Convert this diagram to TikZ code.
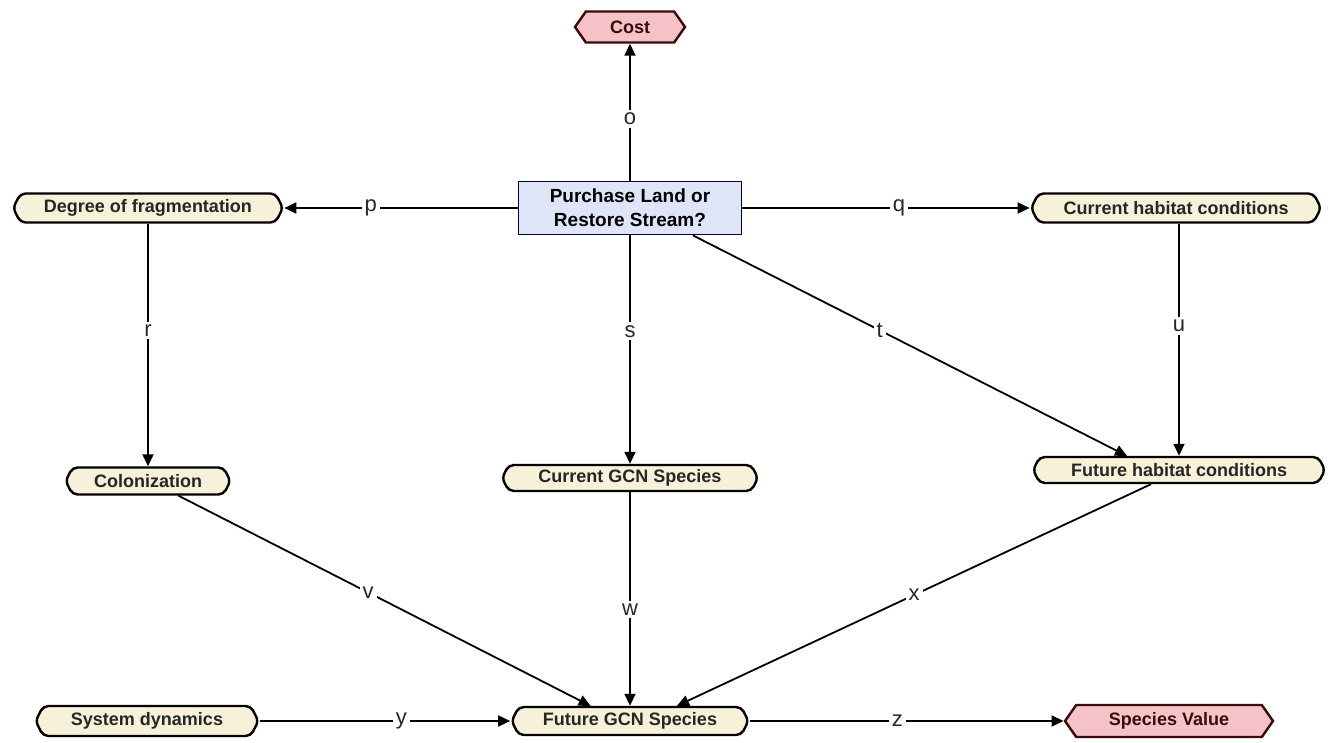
\documentclass[tikz,border=0pt]{standalone}
\usepackage{fontspec}
\setmainfont{Liberation Sans}
\usetikzlibrary{shapes.symbols,arrows.meta,calc}
\definecolor{cream}{HTML}{F7F1DA}
\definecolor{pinkv}{HTML}{F5C3C7}
\definecolor{bluebox}{HTML}{DDE5F7}
\definecolor{darkred}{HTML}{3A0A0A}
\tikzset{
  chance/.style={signal, signal to=west and east, signal pointer angle=125, rounded corners=5pt,
     draw=black, line width=2.4pt, fill=cream, inner sep=0pt,
     font=\bfseries\fontsize{18}{20}\selectfont, text=black!85},
  valuenode/.style={signal, signal to=west and east, signal pointer angle=110, draw=darkred,
     line width=2.4pt, fill=pinkv, inner sep=0pt, font=\bfseries\fontsize{18}{20}\selectfont, text=darkred},
  decision/.style={rectangle, draw=black!80!blue, line width=1.8pt, fill=bluebox, inner sep=0pt,
     align=center, font=\bfseries\fontsize{19}{24}\selectfont},
  arc/.style={line width=1.8pt, -{Triangle[length=12pt,width=11pt]}},
  lbl/.style={fill=white, inner sep=3pt, font=\fontsize{22}{24}\selectfont, text=black!85},
}
\begin{document}
\begin{tikzpicture}[x=1pt,y=-1pt]
\useasboundingbox (0,0) rectangle (1333,743);
% nodes
\node[valuenode, minimum width=110pt, minimum height=31pt] (cost) at (630,27) {Cost};
\node[decision, minimum width=223pt, minimum height=53pt] (pur) at (630,208) {Purchase Land or\\Restore Stream?};
\node[chance, minimum width=270pt, minimum height=29pt] (deg) at (148,208) {Degree of fragmentation};
\node[chance, minimum width=290pt, minimum height=29pt] (curhab) at (1176,208) {Current habitat conditions};
\node[chance, minimum width=165pt, minimum height=27pt] (col) at (148,481) {Colonization};
\node[chance, minimum width=256pt, minimum height=26pt] (curgcn) at (630,478) {Current GCN Species};
\node[chance, minimum width=292pt, minimum height=26pt] (futhab) at (1179,470) {Future habitat conditions};
\node[chance, minimum width=223pt, minimum height=30pt] (sys) at (147,721) {System dynamics};
\node[chance, minimum width=237pt, minimum height=28pt] (futgcn) at (630,721) {Future GCN Species};
\node[valuenode, minimum width=208pt, minimum height=32pt] (spv) at (1169,721) {Species Value};
% connectors
\draw[arc] (pur.north) -- node[lbl, pos=0.45] (lo) {o} (cost.south);
\draw[arc] (pur.west) -- node[lbl, pos=0.63] (lp) {p} (deg.east);
\draw[arc] (pur.east) -- node[lbl, pos=0.545] (lq) {q} (curhab.west);
\draw[arc] (deg.south) -- node[lbl, pos=0.44] (lr) {r} (col.north);
\draw[arc] (pur.south) -- node[lbl, pos=0.42] (ls) {s} (curgcn.north);
\coordinate (tstart) at ($(pur.south)!0.56!(pur.south east)$);
\coordinate (tend) at ($(futhab.north west)!0.63!(futhab.north)$);
\draw[arc] (tstart) -- node[lbl, pos=0.43] (lt) {t} (tend);
\coordinate (ustart) at (futhab.north |- curhab.south);
\draw[arc] (ustart) -- node[lbl, pos=0.44] (lu) {u} (futhab.north);
\coordinate (vstart) at ($(col.south)!0.4!(col.south east)$);
\coordinate (vend) at ($(futgcn.north west)!0.65!(futgcn.north)$);
\draw[arc] (vstart) -- node[lbl, pos=0.46] (lv) {v} (vend);
\draw[arc] (curgcn.south) -- node[lbl, pos=0.55] (lw) {w} (futgcn.north);
\coordinate (xstart) at ($(futhab.south)!0.2!(futhab.south west)$);
\coordinate (xend) at ($(futgcn.north)!0.42!(futgcn.north east)$);
\draw[arc] (xstart) -- node[lbl, pos=0.5] (lx) {x} (xend);
\draw[arc] (sys.east) -- node[lbl, pos=0.565] (ly) {y} (futgcn.west);
\draw[arc] (futgcn.east) -- node[lbl, pos=0.47] (lz) {z} (spv.west);
\end{tikzpicture}
\end{document}
